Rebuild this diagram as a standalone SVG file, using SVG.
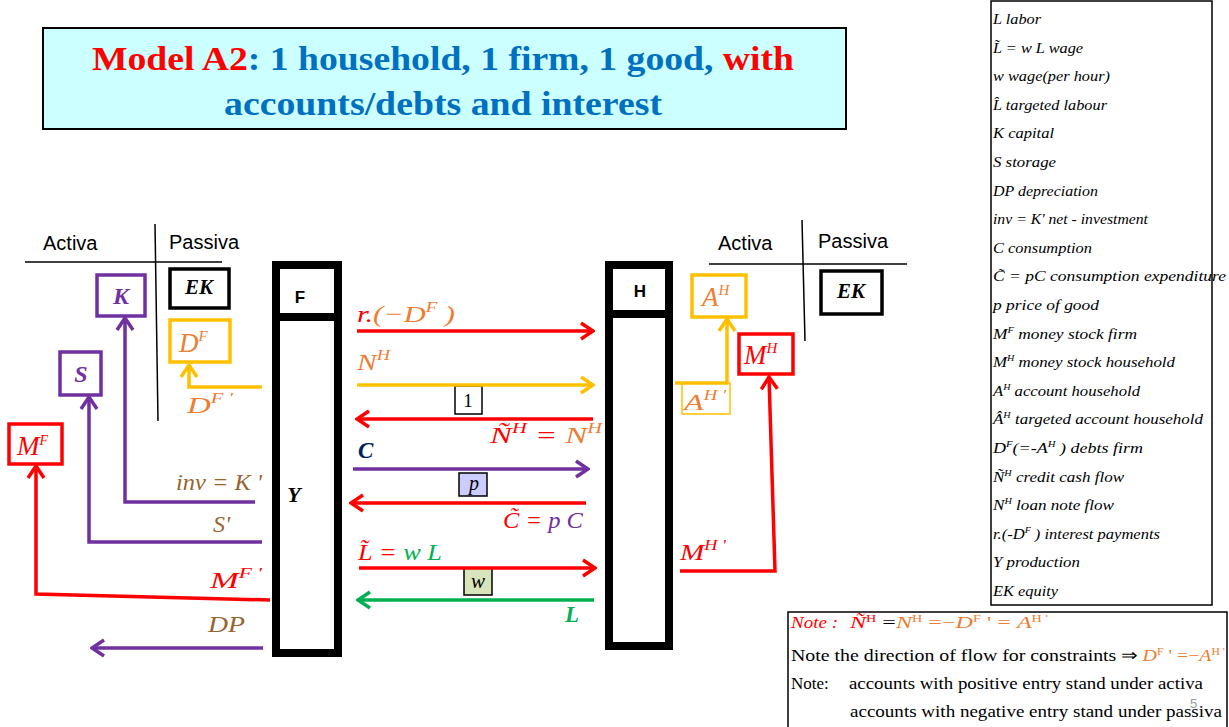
<svg xmlns="http://www.w3.org/2000/svg" width="1229" height="727" viewBox="0 0 1229 727">
<style>
.sans{font-family:"Liberation Sans",Arial,sans-serif}
.ser{font-family:"Liberation Serif","Times New Roman",serif}
.mi{font-family:"Liberation Serif","Times New Roman",serif;font-style:italic;font-size:24px}
.mb{font-family:"Liberation Serif","Times New Roman",serif;font-style:italic;font-size:27px}
.bi{font-family:"Liberation Serif","Times New Roman",serif;font-style:italic;font-weight:bold}
.leg{font-family:"Liberation Serif","Times New Roman",serif;font-style:italic;font-size:15px;fill:#000}
.note{font-family:"Liberation Serif","Times New Roman",serif;font-size:17px;fill:#000}
.ln{fill:none;stroke-width:3.5;stroke-linejoin:miter}
.box{fill:#fff;stroke-width:3.5}
.red{stroke:#ff0000}.gold{stroke:#ffc000}.pur{stroke:#7030a0}.grn{stroke:#00b050}
.tr{fill:#ff0000}.to{fill:#ed7d31}.tp{fill:#7030a0}.tg{fill:#00b050}.tb{fill:#98642f}.tn{fill:#002060}
</style>
<defs>
<marker id="aR" viewBox="0 0 16 20" markerWidth="16" markerHeight="20" refX="14" refY="10" orient="auto" markerUnits="userSpaceOnUse"><path d="M2,2 L14,10 L2,18" fill="none" stroke="#ff0000" stroke-width="3.5"/></marker>
<marker id="aG" viewBox="0 0 16 20" markerWidth="16" markerHeight="20" refX="14" refY="10" orient="auto" markerUnits="userSpaceOnUse"><path d="M2,2 L14,10 L2,18" fill="none" stroke="#ffc000" stroke-width="3.5"/></marker>
<marker id="aP" viewBox="0 0 16 20" markerWidth="16" markerHeight="20" refX="14" refY="10" orient="auto" markerUnits="userSpaceOnUse"><path d="M2,2 L14,10 L2,18" fill="none" stroke="#7030a0" stroke-width="3.5"/></marker>
<marker id="aN" viewBox="0 0 16 20" markerWidth="16" markerHeight="20" refX="14" refY="10" orient="auto" markerUnits="userSpaceOnUse"><path d="M2,2 L14,10 L2,18" fill="none" stroke="#00b050" stroke-width="3.5"/></marker>
</defs>
<rect width="1229" height="727" fill="#fff"/>

<g id="title">
<rect x="43" y="28" width="803" height="101" fill="#ccffff" stroke="#000" stroke-width="2"/>
<text class="ser" x="92" y="70" font-size="34" font-weight="bold" textLength="702" lengthAdjust="spacingAndGlyphs"><tspan fill="#ff0000">Model A2</tspan><tspan fill="#0070c0">: 1 household, 1 firm, 1 good, </tspan><tspan fill="#ff0000">with</tspan></text>
<text class="ser" x="224" y="115" font-size="34" font-weight="bold" fill="#0070c0" textLength="438" lengthAdjust="spacingAndGlyphs">accounts/debts and interest</text>
</g>

<g id="firm-balance">
<text class="sans" x="43" y="250" font-size="20" fill="#000">Activa</text>
<text class="sans" x="169" y="249" font-size="20" fill="#000">Passiva</text>
<line x1="25" y1="262" x2="222" y2="262" stroke="#000" stroke-width="1.5"/>
<line x1="155" y1="224" x2="158" y2="421" stroke="#000" stroke-width="1.5"/>
</g>
<g id="node-K"><rect class="box pur" x="97" y="275" width="48" height="41"/><text class="bi tp" x="121" y="304" font-size="24" text-anchor="middle">K</text></g>
<g id="node-S"><rect class="box pur" x="60" y="352" width="41" height="43"/><text class="bi tp" x="81" y="382" font-size="24" text-anchor="middle">S</text></g>
<g id="node-MF"><rect class="box red" x="9" y="424" width="53" height="40"/><text class="mb tr" x="17" y="455" font-size="24">M<tspan font-size="14" dy="-10">F</tspan></text></g>
<g id="node-EK-F"><rect class="box" stroke="#000" stroke-width="4" x="170" y="269" width="59" height="39"/><text class="bi" x="199" y="294" font-size="21" text-anchor="middle" fill="#000">EK</text></g>
<g id="node-DF"><rect class="box gold" x="170" y="320" width="60" height="42"/><text class="mb to" x="179" y="352">D<tspan font-size="15" dy="-11">F</tspan></text></g>

<g id="node-F">
<rect x="276" y="265" width="62" height="388" fill="#fff" stroke="#000" stroke-width="8"/>
<line x1="276" y1="317" x2="338" y2="317" stroke="#000" stroke-width="8"/>
<text class="sans" x="300" y="303" font-size="17" font-weight="bold" text-anchor="middle" fill="#000">F</text>
<text class="bi" x="294" y="502" font-size="22" text-anchor="middle" fill="#000">Y</text>
</g>

<g id="node-H">
<rect x="609" y="265" width="60" height="381" fill="#fff" stroke="#000" stroke-width="8"/>
<line x1="609" y1="314" x2="669" y2="314" stroke="#000" stroke-width="8"/>
<text class="sans" x="640" y="297" font-size="17" font-weight="bold" text-anchor="middle" fill="#000">H</text>
</g>

<g id="household-balance">
<text class="sans" x="718" y="250" font-size="20" fill="#000">Activa</text>
<text class="sans" x="818" y="248" font-size="20" fill="#000">Passiva</text>
<line x1="709" y1="264" x2="907" y2="264" stroke="#000" stroke-width="1.5"/>
<line x1="802" y1="220" x2="805" y2="341" stroke="#000" stroke-width="1.5"/>
</g>
<g id="node-AH"><rect class="box gold" x="692" y="275" width="54" height="42"/><text class="mb to" x="702" y="306">A<tspan font-size="15" dy="-11">H</tspan></text></g>
<g id="node-EK-H"><rect class="box" stroke="#000" stroke-width="4" x="821" y="271" width="61" height="43"/><text class="bi" x="851" y="298" font-size="21" text-anchor="middle" fill="#000">EK</text></g>
<g id="node-MH"><rect class="box red" x="739" y="334" width="54" height="40"/><text class="mb tr" x="744" y="364">M<tspan font-size="15" dy="-11">H</tspan></text></g>
<g id="node-AH-flow"><rect x="682" y="383" width="48" height="31" fill="#fff" stroke="#ffc000" stroke-width="1.5"/><text class="mi to" x="684" y="410" textLength="42" lengthAdjust="spacingAndGlyphs">A<tspan font-size="14" dy="-10">H</tspan><tspan font-size="14"> '</tspan></text></g>

<g id="price-boxes">
<rect x="455" y="386" width="27" height="28" fill="#fff" stroke="#000" stroke-width="1.5"/>
<text class="ser" x="468" y="407" font-size="19" text-anchor="middle" fill="#000">1</text>
<rect x="459" y="473" width="28" height="23" fill="#ccccff" stroke="#000" stroke-width="1.5"/>
<text class="ser" x="474" y="490" font-size="20" font-style="italic" text-anchor="middle" fill="#000">p</text>
<rect x="464" y="568" width="28" height="27" fill="#d8e4bc" stroke="#000" stroke-width="1.5"/>
<text class="ser" x="478" y="588" font-size="21" font-style="italic" text-anchor="middle" fill="#000">w</text>
</g>

<g id="connectors">
<polyline class="ln gold" points="262,387 189,387 189,365" marker-end="url(#aG)"/>
<polyline class="ln pur" points="255,502 125,502 125,318" marker-end="url(#aP)"/>
<polyline class="ln pur" points="262,542 89,542 89,397" marker-end="url(#aP)"/>
<polyline class="ln red" points="270,600 36,594 36,466" marker-end="url(#aR)"/>
<line class="ln pur" x1="263" y1="648" x2="92" y2="648" marker-end="url(#aP)"/>
<line class="ln red" x1="357" y1="331" x2="593" y2="331" marker-end="url(#aR)"/>
<line class="ln gold" x1="357" y1="385" x2="593" y2="385" marker-end="url(#aG)"/>
<line class="ln red" x1="593" y1="419" x2="357" y2="419" marker-end="url(#aR)"/>
<line class="ln pur" x1="353" y1="469" x2="588" y2="469" marker-end="url(#aP)"/>
<line class="ln red" x1="586" y1="503" x2="351" y2="503" marker-end="url(#aR)"/>
<line class="ln red" x1="359" y1="568" x2="595" y2="568" marker-end="url(#aR)"/>
<line class="ln grn" x1="594" y1="600" x2="358" y2="600" marker-end="url(#aN)"/>
<polyline class="ln gold" points="675,383 727,383 727,319" marker-end="url(#aG)"/>
<polyline class="ln red" points="680,571 775,571 769,377" marker-end="url(#aR)"/>
</g>

<g id="flow-labels">
<text class="mi to" x="187" y="413" textLength="46" lengthAdjust="spacingAndGlyphs">D<tspan font-size="15" dy="-10">F</tspan><tspan font-size="15"> '</tspan></text>
<text class="mi tb" x="176" y="490" textLength="86" lengthAdjust="spacingAndGlyphs">inv = K '</text>
<text class="mi tb" x="213" y="532">S'</text>
<text class="mi tr" x="210" y="588" textLength="52" lengthAdjust="spacingAndGlyphs">M<tspan font-size="15" dy="-10">F</tspan><tspan font-size="15"> '</tspan></text>
<text class="mi tb" x="208" y="632" textLength="37" lengthAdjust="spacingAndGlyphs">DP</text>
<text class="mi" x="357" y="322" textLength="98" lengthAdjust="spacingAndGlyphs"><tspan class="tr">r.</tspan><tspan class="to">(−D</tspan><tspan class="to" font-size="15" dy="-10">F</tspan><tspan class="to" dy="10"> )</tspan></text>
<text class="mi to" x="357" y="370" textLength="33" lengthAdjust="spacingAndGlyphs">N<tspan font-size="15" dy="-10">H</tspan></text>
<text class="mi" x="490" y="443" textLength="112" lengthAdjust="spacingAndGlyphs"><tspan class="tr">Ñ</tspan><tspan class="tr" font-size="15" dy="-10">H</tspan><tspan class="tr" dy="10"> = </tspan><tspan class="to">N</tspan><tspan class="to" font-size="15" dy="-10">H</tspan></text>
<text class="bi tn" x="358" y="458" font-size="23">C</text>
<text class="mi" x="503" y="528" textLength="80" lengthAdjust="spacingAndGlyphs"><tspan class="tr">C̃ = </tspan><tspan class="tp">p C</tspan></text>
<text class="mi" x="358" y="560" textLength="84" lengthAdjust="spacingAndGlyphs"><tspan class="tr">L̃ = </tspan><tspan class="tg">w L</tspan></text>
<text class="bi tg" x="565" y="622" font-size="23">L</text>
<text class="mi tr" x="680" y="560" textLength="46" lengthAdjust="spacingAndGlyphs">M<tspan font-size="15" dy="-10">H</tspan><tspan font-size="15"> '</tspan></text>
</g>

<g id="legend">
<rect x="991" y="1" width="221" height="604" fill="#fff" stroke="#000" stroke-width="1.5"/>
<text class="leg" x="993" y="24" textLength="48" lengthAdjust="spacingAndGlyphs">L labor</text>
<text class="leg" x="993" y="52.6" textLength="90" lengthAdjust="spacingAndGlyphs">L̃ = w L wage</text>
<text class="leg" x="993" y="81.2" textLength="117" lengthAdjust="spacingAndGlyphs">w wage(per hour)</text>
<text class="leg" x="993" y="109.8" textLength="114" lengthAdjust="spacingAndGlyphs">L̂ targeted labour</text>
<text class="leg" x="993" y="138.4" textLength="61" lengthAdjust="spacingAndGlyphs">K capital</text>
<text class="leg" x="993" y="167" textLength="63" lengthAdjust="spacingAndGlyphs">S storage</text>
<text class="leg" x="993" y="195.6" textLength="105" lengthAdjust="spacingAndGlyphs">DP depreciation</text>
<text class="leg" x="993" y="224.2" textLength="155" lengthAdjust="spacingAndGlyphs">inv = K' net - investment</text>
<text class="leg" x="993" y="252.8" textLength="99" lengthAdjust="spacingAndGlyphs">C consumption</text>
<text class="leg" x="993" y="281.4" textLength="233" lengthAdjust="spacingAndGlyphs">C̃ = pC consumption expenditure</text>
<text class="leg" x="993" y="310" textLength="106" lengthAdjust="spacingAndGlyphs">p price of good</text>
<text class="leg" x="993" y="338.6" textLength="144" lengthAdjust="spacingAndGlyphs">M<tspan font-size="9" dy="-6">F</tspan><tspan dy="6"> money stock firm</tspan></text>
<text class="leg" x="993" y="367.2" textLength="182" lengthAdjust="spacingAndGlyphs">M<tspan font-size="9" dy="-6">H</tspan><tspan dy="6"> money stock household</tspan></text>
<text class="leg" x="993" y="395.8" textLength="147" lengthAdjust="spacingAndGlyphs">A<tspan font-size="9" dy="-6">H</tspan><tspan dy="6"> account household</tspan></text>
<text class="leg" x="993" y="424.4" textLength="210" lengthAdjust="spacingAndGlyphs">Â<tspan font-size="9" dy="-6">H</tspan><tspan dy="6"> targeted account  household</tspan></text>
<text class="leg" x="993" y="453" textLength="150" lengthAdjust="spacingAndGlyphs">D<tspan font-size="9" dy="-6">F</tspan><tspan dy="6">(=-A</tspan><tspan font-size="9" dy="-6">H</tspan><tspan dy="6"> ) debts firm</tspan></text>
<text class="leg" x="993" y="481.6" textLength="131" lengthAdjust="spacingAndGlyphs">Ñ<tspan font-size="9" dy="-6">H</tspan><tspan dy="6"> credit cash flow</tspan></text>
<text class="leg" x="993" y="510.2" textLength="121" lengthAdjust="spacingAndGlyphs">N<tspan font-size="9" dy="-6">H</tspan><tspan dy="6"> loan note flow</tspan></text>
<text class="leg" x="993" y="538.8" textLength="167" lengthAdjust="spacingAndGlyphs">r.(-D<tspan font-size="9" dy="-6">F</tspan><tspan dy="6"> ) interest payments</tspan></text>
<text class="leg" x="993" y="567.4" textLength="87" lengthAdjust="spacingAndGlyphs">Y production</text>
<text class="leg" x="993" y="596" textLength="65" lengthAdjust="spacingAndGlyphs">EK equity</text>
</g>

<g id="notes">
<rect x="788" y="612" width="439" height="120" fill="#fff" stroke="#000" stroke-width="1.5"/>
<text class="note" x="791" y="628" textLength="47" lengthAdjust="spacingAndGlyphs"><tspan class="tr" font-style="italic">Note :</tspan></text>
<text class="note" x="850" y="628" textLength="198" lengthAdjust="spacingAndGlyphs"><tspan class="tr" font-style="italic">Ñ</tspan><tspan class="tr" font-size="10" dy="-6">H</tspan><tspan dy="6"> =</tspan><tspan class="to" font-style="italic">N</tspan><tspan class="to" font-size="10" dy="-6">H</tspan><tspan class="to" dy="6"> =−</tspan><tspan class="to" font-style="italic">D</tspan><tspan class="to" font-size="10" dy="-6">F</tspan><tspan class="to" dy="6"> ' = </tspan><tspan class="to" font-style="italic">A</tspan><tspan class="to" font-size="10" dy="-6">H</tspan><tspan class="to" font-size="10"> '</tspan></text>
<text class="note" x="791" y="661" textLength="434" lengthAdjust="spacingAndGlyphs">Note the direction of flow for constraints ⇒ <tspan class="to" font-style="italic">D</tspan><tspan class="to" font-size="10" dy="-6">F</tspan><tspan class="to" dy="6"> ' =−</tspan><tspan class="to" font-style="italic">A</tspan><tspan class="to" font-size="10" dy="-6">H</tspan><tspan class="to" font-size="10"> '</tspan></text>
<text class="note" x="791" y="689">Note:</text>
<text class="note" x="849" y="689" textLength="354" lengthAdjust="spacingAndGlyphs">accounts with positive entry stand under activa</text>
<text class="note" x="850" y="717" textLength="372" lengthAdjust="spacingAndGlyphs">accounts with negative entry stand under passiva</text>
<text class="sans" x="1190" y="708" font-size="13" fill="#999">5</text>
</g>
</svg>
